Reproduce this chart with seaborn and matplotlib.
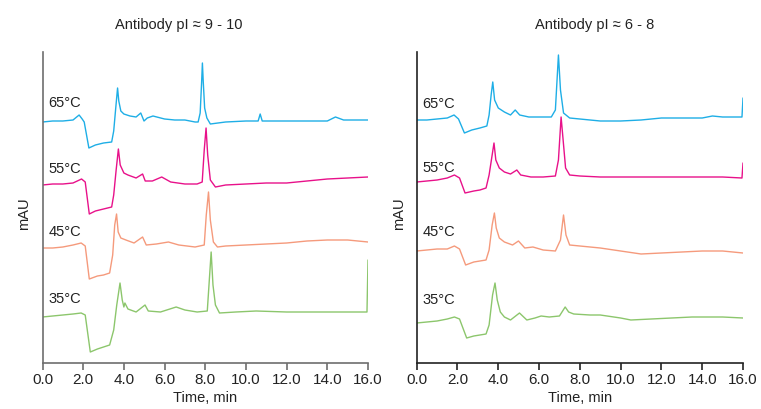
import matplotlib
matplotlib.use("Agg")
import matplotlib.pyplot as plt
import seaborn as sns
import pandas as pd

# ---------------- data (time in min, signal in arbitrary mAU units) ----------------
titles = ["Antibody pI \u2248 9 - 10", "Antibody pI \u2248 6 - 8"]
temps = ["65\u00b0C", "55\u00b0C", "45\u00b0C", "35\u00b0C"]
colors = ["#1EAEE6", "#E8118A", "#F59A7C", "#8CC66C"]
x_ticks = [0, 2, 4, 6, 8, 10, 12, 14, 16]

# left panel (pI 9-10)
L65_t = [0, 0.5, 1.0, 1.5, 1.8, 1.95, 2.05, 2.28, 2.6, 3.0, 3.4, 3.5, 3.6, 3.69, 3.75, 3.85, 4.0, 4.3,
         4.6, 4.83, 4.99, 5.15, 5.43, 6.0, 6.5, 7.0, 7.5, 7.65, 7.75, 7.82, 7.86, 7.9, 7.97, 8.08, 8.25,
         9.0, 10.0, 10.6, 10.7, 10.8, 12.0, 13.0, 14.0, 14.4, 14.8, 16.0]
L65_v = [241, 242, 242, 243, 248, 244, 241, 215, 218, 220, 221, 232, 255, 275, 262, 252, 249, 247,
         246, 250, 242, 245, 247, 244, 243, 243, 241, 241, 250, 280, 300, 282, 255, 245, 239,
         241, 242, 242, 249, 242, 242, 242, 242, 246, 243, 243]

L55_t = [0, 0.5, 1.0, 1.5, 1.92, 2.1, 2.3, 2.6, 3.0, 3.4, 3.5, 3.62, 3.73, 3.82, 4.0, 4.2, 4.6, 4.92,
         5.05, 5.4, 5.86, 6.3, 7.0, 7.6, 7.85, 7.95, 8.04, 8.12, 8.25, 8.5, 9.0, 10.0, 11.0, 12.0,
         13.0, 14.0, 15.0, 16.0]
L55_v = [178, 179, 179, 180, 184, 181, 149, 152, 154, 156, 168, 193, 214, 198, 190, 188, 185, 189,
         182, 182, 186, 181, 179, 179, 181, 213, 235, 208, 183, 176, 178, 179, 180, 180,
         182, 184, 185, 186]

L45_t = [0, 0.5, 1.0, 1.5, 1.9, 2.1, 2.3, 2.7, 3.0, 3.3, 3.45, 3.55, 3.64, 3.72, 3.85, 4.1, 4.5,
         4.92, 5.1, 5.6, 6.19, 6.7, 7.5, 7.95, 8.05, 8.16, 8.25, 8.4, 8.6, 9.0, 10.0, 11.0, 12.0,
         13.0, 14.0, 15.0, 16.0]
L45_v = [115, 115, 116, 118, 120, 117, 84, 87, 88, 90, 108, 138, 149, 131, 125, 123, 120,
         126, 118, 119, 121, 118, 116, 118, 148, 171, 143, 121, 116, 117, 118, 119, 120,
         122, 123, 123, 121]

L35_t = [0, 0.5, 1.0, 1.5, 1.9, 2.1, 2.35, 2.7, 3.0, 3.3, 3.5, 3.65, 3.81, 3.92, 4.0, 4.05, 4.2,
         4.6, 5.04, 5.2, 5.8, 6.57, 7.0, 7.6, 8.1, 8.2, 8.29, 8.38, 8.5, 8.7, 9.5, 10.5, 12.0,
         13.0, 14.0, 15.0, 15.95, 16.0]
L35_v = [46, 47, 48, 49, 50, 48, 11, 14, 16, 18, 33, 58, 80, 63, 56, 60, 54,
         51, 58, 52, 51, 56, 53, 51, 52, 83, 111, 78, 58, 50, 51, 52, 51,
         51, 51, 51, 51, 103]

# right panel (pI 6-8)
R65_t = [0, 0.5, 1.0, 1.5, 1.83, 2.05, 2.34, 2.7, 3.1, 3.44, 3.55, 3.65, 3.73, 3.82, 4.0, 4.3, 4.6,
         4.83, 5.05, 5.5, 6.0, 6.6, 6.8, 6.95, 7.05, 7.2, 7.5, 8.0, 9.0, 10.0, 11.0, 12.0, 13.0,
         14.0, 14.5, 15.0, 15.95, 16.0]
R65_v = [243, 243, 244, 245, 248, 244, 230, 233, 235, 237, 248, 268, 281, 263, 255, 251, 248,
         253, 248, 246, 246, 246, 253, 308, 273, 250, 245, 244, 242, 242, 243, 245, 245,
         245, 247, 246, 246, 265]

R55_t = [0, 0.5, 1.0, 1.5, 1.85, 2.1, 2.37, 2.8, 3.1, 3.4, 3.55, 3.7, 3.79, 3.88, 4.05, 4.3, 4.6,
         4.91, 5.1, 5.6, 6.2, 6.8, 6.95, 7.08, 7.18, 7.3, 7.5, 8.0, 9.0, 10.0, 11.0, 12.0, 13.0,
         14.0, 15.0, 15.95, 16.0]
R55_v = [181, 182, 183, 185, 188, 185, 170, 172, 173, 175, 188, 208, 220, 203, 195, 191, 189,
         193, 188, 186, 186, 187, 203, 246, 223, 195, 188, 187, 186, 186, 186, 186, 186,
         186, 186, 185, 200]

R45_t = [0, 0.5, 1.0, 1.5, 1.85, 2.1, 2.4, 2.8, 3.1, 3.4, 3.55, 3.7, 3.81, 3.9, 4.05, 4.3, 4.7,
         4.99, 5.3, 5.7, 6.2, 6.8, 7.05, 7.2, 7.32, 7.5, 8.0, 9.0, 10.0, 11.0, 12.0, 13.0, 14.0,
         15.0, 16.0]
R45_v = [112, 113, 114, 114, 117, 114, 98, 101, 102, 103, 113, 138, 150, 135, 125, 121, 118,
         122, 115, 116, 113, 112, 123, 148, 128, 118, 117, 115, 112, 109, 110, 111, 112,
         112, 110]

R35_t = [0, 0.5, 1.0, 1.5, 1.85, 2.1, 2.45, 2.8, 3.1, 3.4, 3.55, 3.72, 3.84, 3.95, 4.1, 4.3, 4.6,
         5.04, 5.4, 5.8, 6.1, 6.5, 7.0, 7.28, 7.45, 7.7, 8.5, 9.0, 10.0, 10.5, 11.5, 12.5, 13.5,
         14.0, 15.0, 16.0]
R35_v = [40, 41, 42, 44, 46, 44, 25, 27, 28, 29, 38, 68, 80, 63, 51, 46, 43,
         50, 43, 45, 47, 46, 47, 56, 51, 49, 48, 48, 45, 43, 44, 45, 46,
         46, 46, 45]

panels = [
    [(L65_t, L65_v), (L55_t, L55_v), (L45_t, L45_v), (L35_t, L35_v)],
    [(R65_t, R65_v), (R55_t, R55_v), (R45_t, R45_v), (R35_t, R35_v)],
]

# ---------------- styling ----------------
sns.set_style("ticks")
FONT = ["Liberation Sans Narrow", "Liberation Sans", "DejaVu Sans"]
plt.rcParams["font.family"] = FONT

W, H = 761, 409
fig = plt.figure(figsize=(W / 100, H / 100), dpi=100)

ax_px = [(42.5, 368), (416.7, 743)]
y_top, y_bot = 52, 363
label_y = [[103, 169, 232, 299], [104, 168, 232, 300]]
title_x = [179, 595]
spine_col = ["#6E6E6E", "#222222"]

for p in range(2):
    x0, x1 = ax_px[p]
    ax = fig.add_axes([x0 / W, 1 - y_bot / H, (x1 - x0) / W, (y_bot - y_top) / H])
    for i, (t, v) in enumerate(panels[p]):
        df = pd.DataFrame({"t": t, "v": v})
        sns.lineplot(data=df, x="t", y="v", ax=ax, color=colors[i], lw=1.0,
                     estimator=None, sort=False)
    ax.set_xlim(0, 16)
    ax.set_ylim(0, 311)
    ax.set_xticks(x_ticks)
    ax.set_xticklabels([f"{x:.1f}" for x in x_ticks], fontsize=11, color="#222222")
    ax.set_yticks([])
    ax.set_xlabel("Time, min", fontsize=10.5, color="#222222", labelpad=3)
    ax.set_ylabel("")
    for s in ["top", "right"]:
        ax.spines[s].set_visible(False)
    for s in ["left", "bottom"]:
        ax.spines[s].set_color(spine_col[p])
        ax.spines[s].set_linewidth(1.2)
    ax.tick_params(axis="x", length=5, width=1.2, color=spine_col[p], pad=2)
    for i, lab in enumerate(temps):
        fig.text((x0 + 6) / W, 1 - label_y[p][i] / H, lab, fontsize=10.5,
                 color="#222222", ha="left", va="center")
    fig.text((x0 - 18) / W, 1 - 214 / H, "mAU", rotation=90, fontsize=10.5,
             color="#222222", ha="center", va="center")
    fig.text(title_x[p] / W, 1 - 25 / H, titles[p], fontsize=10.5,
             color="#222222", ha="center", va="center")

fig.savefig("out.png", dpi=100)
